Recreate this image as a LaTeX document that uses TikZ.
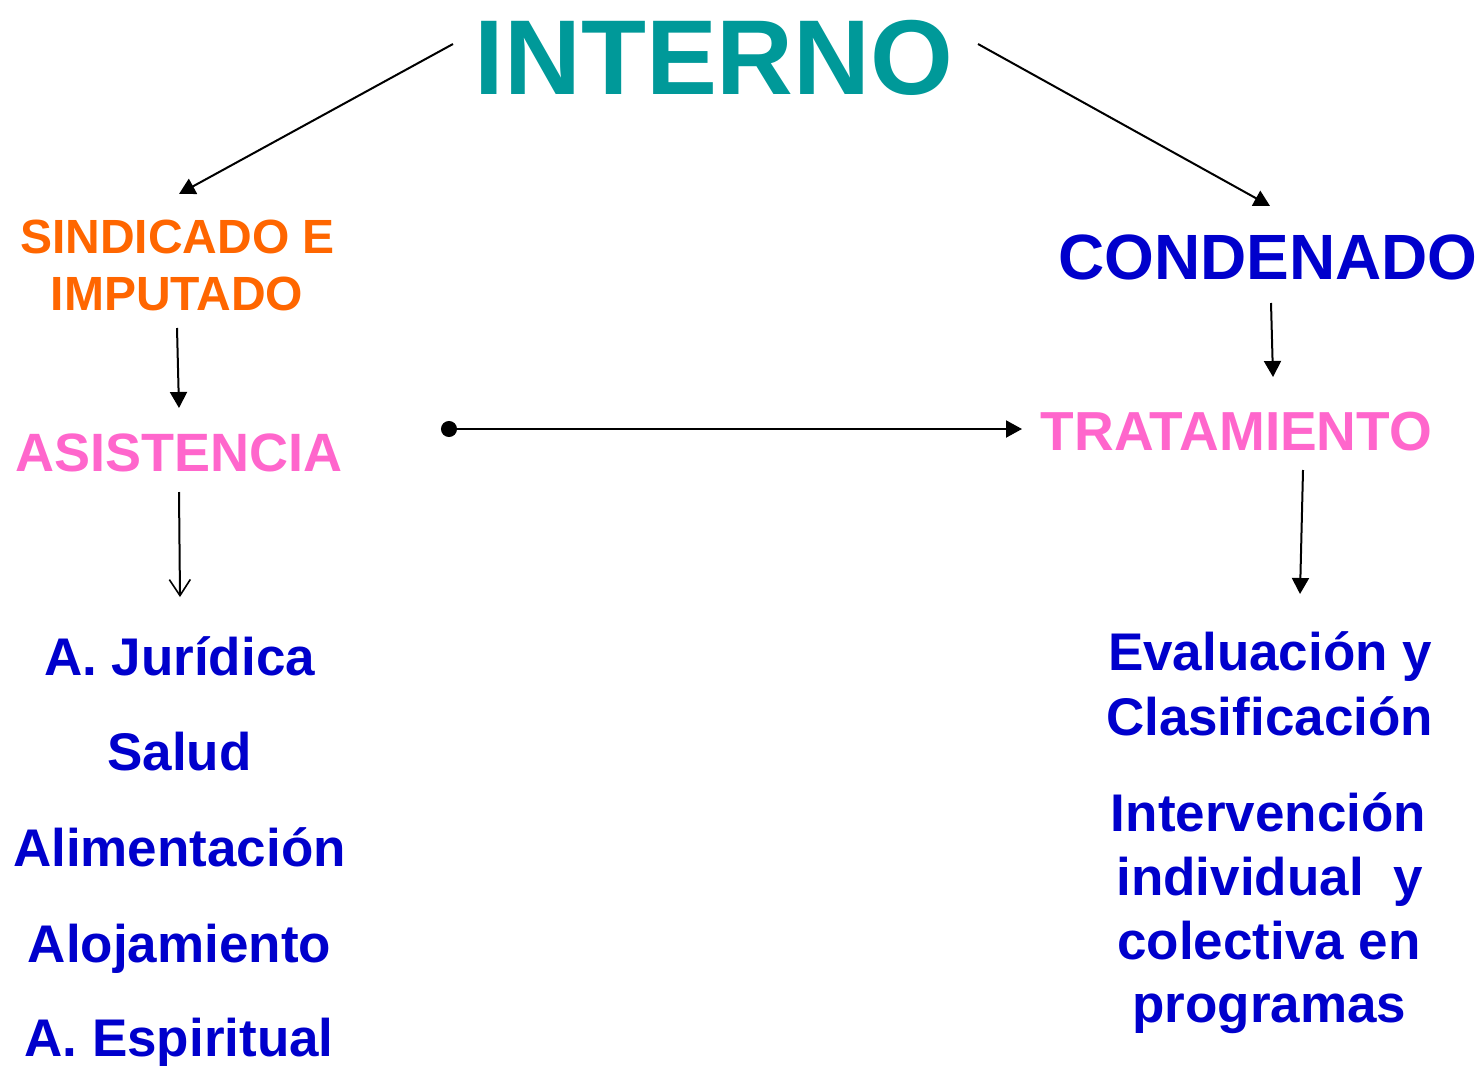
\documentclass[tikz,border=0pt]{standalone}
\usepackage{fontspec}
\setmainfont{Liberation Sans}
\usetikzlibrary{arrows.meta}
\definecolor{tealc}{HTML}{009999}
\definecolor{orangec}{HTML}{FF6600}
\definecolor{bluec}{HTML}{0000CC}
\definecolor{pinkc}{HTML}{FF66CC}
\tikzset{
  lbl/.style={anchor=base, inner sep=0pt, font=\bfseries},
  conn/.style={line width=1pt, -{Triangle[length=8pt,width=8.5pt]}},
  openconn/.style={line width=1pt, -{Straight Barb[length=8pt,width=10.5pt,line width=0.8pt]}},
  dotconn/.style={line width=1pt, {Circle[length=8pt]}-{Triangle[length=8pt,width=8.5pt]}},
}
\begin{document}
\begin{tikzpicture}[x=0.5pt,y=-0.5pt]
\useasboundingbox (0,0) rectangle (1481,1065);
% titles
\node[lbl, text=tealc, font=\bfseries\fontsize{53.2pt}{60pt}\selectfont] (interno) at (714,95) {INTERNO};
\node[lbl, text=orangec, font=\bfseries\fontsize{24pt}{28pt}\selectfont] (sind1) at (177.5,253) {SINDICADO E};
\node[lbl, text=orangec, font=\bfseries\fontsize{24pt}{28pt}\selectfont] (sind2) at (177,310) {IMPUTADO};
\node[lbl, text=bluec, font=\bfseries\fontsize{32pt}{36pt}\selectfont] (cond) at (1268,279) {CONDENADO};
\node[lbl, text=pinkc, font=\bfseries\fontsize{27pt}{30pt}\selectfont] (asis) at (179,471) {ASISTENCIA};
\node[lbl, text=pinkc, font=\bfseries\fontsize{27.5pt}{30pt}\selectfont] (trat) at (1236.5,450) {TRATAMIENTO};
% left list
\tikzset{item/.style={lbl, text=bluec, font=\bfseries\fontsize{26.5pt}{32pt}\selectfont}}
\node[item] (jur) at (179.5,675) {A. Jurídica};
\node[item] (sal) at (179.5,770) {Salud};
\node[item] (ali) at (179.5,866) {Alimentación};
\node[item] (alo) at (179.5,962) {Alojamiento};
\node[item] (esp) at (179,1056) {A. Espiritual};
% right list
\node[item] (eva1) at (1270,670) {Evaluación y};
\node[item] (eva2) at (1269.5,735) {Clasificación};
\node[item] (int1) at (1268.5,831) {Intervención};
\node[item] (int2) at (1269.5,895) {individual\ \ y};
\node[item] (int3) at (1269,959) {colectiva en};
\node[item] (int4) at (1269.5,1022) {programas};
% connector ends
\coordinate (a1s) at (453,44);  \coordinate (a1e) at (179,194);
\coordinate (a2s) at (978,44);  \coordinate (a2e) at (1270,206);
\coordinate (a3s) at (177,328); \coordinate (a3e) at (179,408);
\coordinate (a4s) at (179,492); \coordinate (a4e) at (180,597);
\coordinate (a5s) at (441,429); \coordinate (a5e) at (1022,429);
\coordinate (a6s) at (1271,303);\coordinate (a6e) at (1273,377);
\coordinate (a7s) at (1303,470);\coordinate (a7e) at (1300,594);
\draw[conn] (a1s) -- (a1e);
\draw[conn] (a2s) -- (a2e);
\draw[conn] (a3s) -- (a3e);
\draw[openconn] (a4s) -- (a4e);
\draw[dotconn] (a5s) -- (a5e);
\draw[conn] (a6s) -- (a6e);
\draw[conn] (a7s) -- (a7e);
\end{tikzpicture}
\end{document}
